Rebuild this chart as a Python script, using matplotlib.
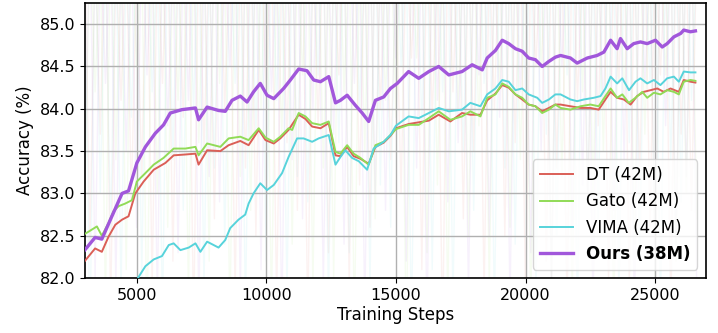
import matplotlib
matplotlib.use("Agg")
import matplotlib.pyplot as plt
import seaborn as sns

# Smoothed accuracy curves
ours_steps = [3000, 3400, 3660, 3990, 4440, 4690, 5010, 5340, 5720, 6040, 6300, 6750, 7270, 7390,
              7720, 8160, 8420, 8680, 9000, 9260, 9510, 9770, 10030, 10290, 10670, 10930, 11250,
              11570, 11830, 12090, 12410, 12670, 12860, 13120, 13440, 13700, 13950, 14210, 14530,
              14790, 15050, 15490, 15880, 16270, 16650, 17040, 17550, 17940, 18330, 18520, 18840,
              19100, 19350, 19610, 19870, 20120, 20380, 20640, 20900, 21150, 21350, 21730, 21990,
              22380, 22760, 23020, 23280, 23530, 23660, 23920, 24170, 24430, 24690, 25010, 25270,
              25460, 25720, 25980, 26100, 26360, 26550]
ours_acc = [82.33, 82.48, 82.46, 82.69, 83.00, 83.03, 83.36, 83.55, 83.71, 83.81, 83.95, 83.99, 84.01, 83.87,
            84.02, 83.98, 83.97, 84.10, 84.15, 84.08, 84.20, 84.30, 84.16, 84.12, 84.24, 84.34, 84.47,
            84.45, 84.34, 84.32, 84.38, 84.07, 84.10, 84.16, 84.04, 83.95, 83.85, 84.10, 84.14,
            84.24, 84.30, 84.44, 84.36, 84.44, 84.50, 84.40, 84.44, 84.52, 84.46, 84.60, 84.69,
            84.81, 84.77, 84.71, 84.68, 84.60, 84.58, 84.50, 84.56, 84.61, 84.63, 84.60, 84.54,
            84.60, 84.63, 84.67, 84.81, 84.71, 84.83, 84.71, 84.77, 84.79, 84.77, 84.81, 84.73,
            84.77, 84.85, 84.89, 84.93, 84.91, 84.92]

gato_steps = [3000, 3470, 3660, 3920, 4110, 4310, 4560, 4820, 5010, 5340, 5660, 6040, 6430, 6880,
              7270, 7390, 7720, 8230, 8550, 9000, 9320, 9710, 9970, 10290, 10540, 10860, 11000,
              11250, 11510, 11770, 12090, 12410, 12670, 12860, 13120, 13370, 13630, 13950, 14210,
              14530, 14790, 15000, 15490, 15880, 16270, 16650, 17100, 17550, 17870, 18260, 18520,
              18840, 19100, 19350, 19610, 19870, 20120, 20380, 20640, 20900, 21150, 21350, 21730,
              22120, 22500, 22820, 23080, 23280, 23530, 23730, 23980, 24240, 24500, 24690, 24950,
              25200, 25460, 25720, 25910, 26100, 26360, 26550]
gato_acc = [82.52, 82.61, 82.50, 82.65, 82.79, 82.85, 82.88, 82.92, 83.14, 83.24, 83.34, 83.42, 83.53, 83.53,
            83.55, 83.45, 83.59, 83.55, 83.65, 83.67, 83.63, 83.77, 83.66, 83.61, 83.67, 83.77, 83.75,
            83.95, 83.91, 83.83, 83.81, 83.85, 83.49, 83.47, 83.57, 83.47, 83.42, 83.34, 83.57,
            83.61, 83.69, 83.76, 83.81, 83.81, 83.89, 83.97, 83.87, 83.91, 83.97, 83.91, 84.13,
            84.17, 84.30, 84.26, 84.17, 84.13, 84.05, 84.03, 83.95, 83.99, 84.05, 84.01, 83.99,
            84.03, 84.05, 84.03, 84.15, 84.24, 84.13, 84.17, 84.07, 84.13, 84.20, 84.13, 84.19,
            84.17, 84.22, 84.20, 84.17, 84.32, 84.34, 84.33]

dt_steps = [3000, 3400, 3660, 3920, 4180, 4440, 4690, 4950, 5270, 5660, 6110, 6430, 6880, 7270,
            7390, 7720, 8230, 8550, 9000, 9320, 9710, 9970, 10290, 10540, 10860, 11250, 11510,
            11770, 12090, 12410, 12670, 12860, 13120, 13370, 13630, 13950, 14210, 14530, 14790,
            15000, 15490, 15880, 16270, 16650, 17100, 17550, 17870, 18260, 18520, 18840, 19100,
            19350, 19610, 19870, 20120, 20380, 20640, 20900, 21150, 21350, 21730, 22120, 22500,
            22820, 23080, 23280, 23530, 23790, 24050, 24300, 24560, 24820, 25080, 25330, 25590,
            25910, 26100, 26360, 26550]
dt_acc = [82.20, 82.35, 82.31, 82.49, 82.63, 82.69, 82.73, 83.00, 83.14, 83.28, 83.36, 83.45, 83.46, 83.47,
          83.34, 83.51, 83.50, 83.57, 83.62, 83.57, 83.75, 83.63, 83.59, 83.65, 83.75, 83.93, 83.88,
          83.79, 83.77, 83.83, 83.45, 83.44, 83.55, 83.44, 83.41, 83.35, 83.55, 83.60, 83.68,
          83.77, 83.82, 83.84, 83.86, 83.93, 83.85, 83.95, 83.93, 83.93, 84.10, 84.18, 84.28,
          84.25, 84.17, 84.11, 84.05, 84.03, 83.97, 84.01, 84.05, 84.05, 84.03, 84.01, 84.01,
          83.99, 84.11, 84.20, 84.13, 84.11, 84.05, 84.15, 84.20, 84.22, 84.24, 84.20, 84.24,
          84.20, 84.34, 84.32, 84.31]

vima_steps = [3000, 4000, 4700, 5050, 5340, 5660, 5980, 6240, 6430, 6690, 7010, 7270, 7460, 7720,
              8160, 8420, 8610, 8930, 9190, 9320, 9510, 9770, 10030, 10290, 10610, 10860, 11190,
              11440, 11770, 12020, 12410, 12670, 12860, 13050, 13310, 13570, 13890, 14140, 14530,
              14790, 15000, 15490, 15880, 16270, 16650, 17040, 17550, 17870, 18260, 18520, 18840,
              19100, 19350, 19610, 19870, 20120, 20450, 20640, 20900, 21150, 21350, 21730, 21990,
              22250, 22630, 22890, 23080, 23280, 23530, 23730, 23990, 24240, 24430, 24690, 24950,
              25200, 25460, 25720, 25910, 26100, 26360, 26550]
vima_acc = [81.50, 81.70, 81.85, 82.00, 82.14, 82.22, 82.26, 82.39, 82.41, 82.33, 82.36, 82.41, 82.31, 82.43,
            82.36, 82.45, 82.59, 82.69, 82.75, 82.88, 83.00, 83.12, 83.04, 83.10, 83.24, 83.43, 83.65,
            83.65, 83.61, 83.65, 83.69, 83.34, 83.43, 83.51, 83.42, 83.38, 83.28, 83.53, 83.61,
            83.69, 83.80, 83.91, 83.89, 83.95, 84.01, 83.97, 83.99, 84.07, 84.03, 84.17, 84.24,
            84.34, 84.32, 84.22, 84.24, 84.17, 84.13, 84.07, 84.11, 84.17, 84.17, 84.11, 84.09,
            84.11, 84.13, 84.15, 84.24, 84.38, 84.30, 84.36, 84.22, 84.32, 84.36, 84.30, 84.34,
            84.28, 84.36, 84.38, 84.32, 84.44, 84.43, 84.43]

# Raw (unsmoothed) evaluations, logged every 200 steps
raw_steps = list(range(3000, 26601, 200))
dt_raw = [86.1, 82.4, 85.9, 83.7, 86.3, 81.6, 85.8, 84.1, 86.0, 82.9, 85.7, 83.2, 86.2, 81.9, 85.9, 84.3, 86.1, 82.2, 85.8, 83.9,
          86.0, 81.4, 86.2, 83.5, 85.9, 82.7, 86.1, 84.0, 85.8, 81.8, 86.0, 83.3, 86.3, 82.5, 85.9, 84.2, 86.1, 81.7, 85.8, 83.6,
          86.2, 82.8, 86.0, 81.5, 85.9, 83.8, 86.1, 82.3, 85.8, 84.4, 86.2, 81.9, 86.0, 83.1, 85.9, 82.6, 86.1, 84.0, 85.8, 83.4,
          85.5, 83.0, 86.0, 84.6, 85.9, 82.1, 86.2, 83.9, 85.7, 81.3, 86.1, 84.2, 85.9, 82.7, 86.0, 83.5, 86.3, 81.8, 85.8, 84.0,
          86.1, 82.5, 85.9, 83.6, 86.2, 81.7, 85.8, 84.5, 86.0, 82.2, 86.1, 83.3, 85.9, 81.6, 86.2, 84.1, 85.7, 82.9, 86.0, 83.8,
          86.1, 82.0, 85.9, 84.3, 86.2, 81.9, 85.8, 83.2, 86.0, 82.6, 86.1, 84.4, 85.9, 81.5, 86.2, 83.7, 85.8, 82.8, 86.0]
gato_raw = [82.9, 86.0, 84.2, 85.9, 81.7, 86.2, 83.4, 85.8, 82.1, 86.1, 84.5, 85.9, 81.3, 86.0, 83.0, 86.2, 82.6, 85.8, 84.1, 86.1,
            81.8, 85.9, 83.6, 86.0, 82.2, 86.3, 84.3, 85.8, 81.5, 86.1, 83.2, 85.9, 82.8, 86.0, 84.0, 86.2, 81.6, 85.8, 83.7, 86.1,
            82.4, 85.9, 84.4, 86.0, 81.9, 86.2, 83.3, 85.8, 82.0, 86.1, 84.2, 85.9, 81.4, 86.0, 83.5, 86.2, 82.7, 85.8, 84.1, 86.0,
            83.9, 86.1, 81.2, 85.9, 84.6, 86.0, 82.3, 86.2, 83.1, 85.8, 81.7, 86.1, 84.0, 85.9, 82.5, 86.0, 83.8, 86.2, 81.9, 85.8,
            84.3, 86.1, 82.6, 85.9, 83.4, 86.0, 81.6, 86.2, 84.5, 85.8, 82.0, 86.1, 83.2, 85.9, 81.8, 86.0, 84.2, 86.2, 82.9, 85.8,
            83.5, 86.1, 81.5, 85.9, 84.1, 86.0, 82.4, 86.2, 83.7, 85.8, 81.9, 86.1, 84.4, 85.9, 82.2, 86.0, 83.0, 86.2, 82.7]
vima_raw = [85.9, 81.2, 86.1, 83.0, 85.8, 82.5, 86.2, 81.8, 85.9, 83.9, 86.0, 82.0, 86.1, 84.2, 85.8, 81.5, 86.2, 83.4, 85.9, 82.8,
            86.0, 84.0, 86.1, 81.9, 85.8, 83.3, 86.2, 82.4, 85.9, 84.3, 86.0, 81.6, 86.1, 83.7, 85.8, 82.2, 86.2, 84.1, 85.9, 81.8,
            86.0, 83.2, 86.1, 82.9, 85.8, 84.4, 86.2, 81.7, 85.9, 83.6, 86.0, 82.3, 86.1, 84.0, 85.8, 81.9, 86.2, 83.1, 85.9, 82.6,
            86.1, 84.5, 85.9, 81.4, 86.0, 83.8, 86.2, 82.1, 85.8, 84.2, 86.1, 81.7, 85.9, 83.5, 86.0, 82.8, 86.2, 84.3, 85.8, 81.6,
            86.1, 83.3, 85.9, 82.4, 86.0, 84.1, 86.2, 81.9, 85.8, 83.7, 86.1, 82.5, 85.9, 84.4, 86.0, 81.5, 86.2, 83.0, 85.8, 82.7,
            86.1, 84.0, 85.9, 81.8, 86.0, 83.6, 86.2, 82.2, 85.8, 84.3, 86.1, 81.6, 85.9, 83.4, 86.0, 82.9, 86.2, 84.1, 85.8]
ours_raw = [83.1, 86.2, 82.0, 85.9, 84.3, 86.1, 81.9, 85.8, 83.5, 86.0, 82.6, 86.2, 84.4, 85.9, 81.7, 86.1, 83.8, 85.8, 82.3, 86.0,
            84.1, 86.2, 81.6, 85.9, 83.2, 86.1, 82.9, 85.8, 84.5, 86.0, 81.8, 86.2, 83.6, 85.9, 82.1, 86.1, 84.2, 85.8, 81.5, 86.0,
            83.4, 86.2, 82.7, 85.9, 84.0, 86.1, 81.9, 85.8, 83.7, 86.0, 82.4, 86.2, 84.3, 85.9, 81.6, 86.1, 83.0, 85.8, 82.8, 86.0,
            84.6, 86.1, 82.2, 85.9, 83.3, 86.0, 81.4, 86.2, 84.1, 85.8, 82.9, 86.1, 83.6, 85.9, 81.8, 86.0, 84.4, 86.2, 82.5, 85.8,
            83.9, 86.1, 81.7, 85.9, 84.2, 86.0, 82.3, 86.2, 83.5, 85.8, 81.9, 86.1, 84.5, 85.9, 82.6, 86.0, 83.1, 86.2, 81.6, 85.8,
            84.0, 86.1, 82.8, 85.9, 83.4, 86.0, 81.5, 86.2, 84.3, 85.8, 82.1, 86.1, 83.8, 85.9, 82.4, 86.0, 83.2, 86.2, 81.9]

labels = ['DT (42M)', 'Gato (42M)', 'VIMA (42M)', 'Ours (38M)']
colors = sns.color_palette('hls', 4)

plt.rcParams['font.family'] = ['DejaVu Sans']
fig, ax = plt.subplots(figsize=(7.18, 3.33), dpi=100)
fig.subplots_adjust(left=0.118, right=0.983, top=0.991, bottom=0.165)

series = [
    (dt_steps, dt_acc, dt_raw, 1.4),
    (gato_steps, gato_acc, gato_raw, 1.4),
    (vima_steps, vima_acc, vima_raw, 1.4),
    (ours_steps, ours_acc, ours_raw, 2.4),
]

# faint raw curves behind the smoothed ones
for (st, acc, raw, lw), c in zip(series, colors):
    ax.plot(raw_steps, raw, color=c, alpha=0.08, linewidth=1.0, zorder=1)

for (st, acc, raw, lw), c, lab in zip(series, colors, labels):
    ax.plot(st, acc, color=c, linewidth=lw, label=lab, zorder=3)

ax.set_xlim(3000, 26950)
ax.set_ylim(82.0, 85.25)
ax.set_yticks([82.0, 82.5, 83.0, 83.5, 84.0, 84.5, 85.0])
ax.set_xticks([5000, 10000, 15000, 20000, 25000])
ax.grid(True, color='#b0b0b0', linewidth=1.0)
ax.tick_params(labelsize=11.5)
ax.set_xlabel('Training Steps', fontsize=12, labelpad=2)
ax.set_ylabel('Accuracy (%)', fontsize=12)
for sp in ax.spines.values():
    sp.set_linewidth(1.2)

leg = ax.legend(loc='lower right', fontsize=12)
leg.get_texts()[3].set_fontweight('bold')

plt.savefig('out.png', dpi=100)
